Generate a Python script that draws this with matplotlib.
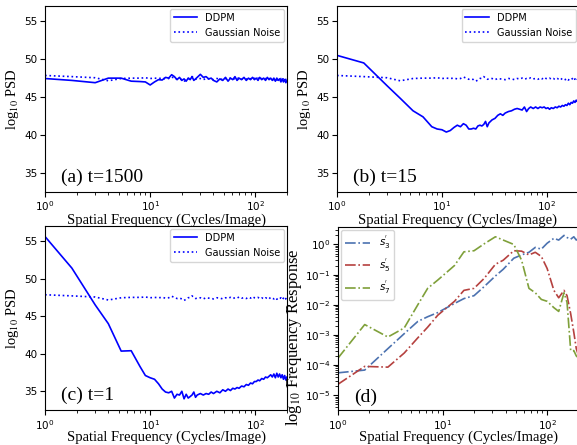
import matplotlib.pyplot as plt

# spatial frequency bins used for the PSD panels (a)-(c)
freq = [1, 1.8, 3, 4, 5.3, 6.6, 8, 9, 10, 11, 12, 13, 14, 15, 16, 17, 18, 19, 20,
        21, 22, 23, 24, 25, 26, 27, 28, 30, 32, 34, 36, 38, 40, 43, 46, 49, 52,
        55, 58, 61, 64, 67, 70, 74, 78, 82, 86, 90, 94, 98, 102, 106, 110, 115,
        120, 125, 130, 135, 140, 145, 150, 155, 160, 165, 170, 175, 180, 185,
        190, 195, 200]

# Gaussian noise reference (same in every panel)
noise_psd = [47.85, 47.7, 47.55, 47.15, 47.45, 47.5, 47.5, 47.55, 47.45, 47.5,
             47.45, 47.5, 47.4, 47.45, 47.65, 47.5, 47.35, 47.4, 47.3, 47.1,
             47.25, 47.45, 47.5, 47.7, 47.5, 47.35, 47.4, 47.45, 47.3, 47.45,
             47.4, 47.35, 47.3, 47.45, 47.4, 47.3, 47.45, 47.4, 47.5, 47.35,
             47.45, 47.4, 47.55, 47.4, 47.45, 47.35, 47.5, 47.4, 47.6, 47.45,
             47.4, 47.5, 47.35, 47.45, 47.3, 47.45, 47.35, 47.5, 47.3, 47.4,
             47.3, 47.45, 47.25, 47.4, 47.3, 47.45, 47.2, 47.4, 47.15, 47.35, 47.1]

# DDPM PSD at t=1500
ddpm_1500 = [47.45, 47.2, 46.9, 47.5, 47.5, 47.1, 47.05, 47.0, 46.6, 47.0,
             47.3, 47.25, 47.6, 47.5, 47.95, 47.7, 47.3, 47.6, 47.2, 47.4,
             47.1, 47.5, 47.3, 47.7, 47.2, 47.4, 47.6, 48.0, 47.6, 47.7,
             47.4, 47.5, 47.2, 47.0, 47.4, 47.2, 47.6, 47.1, 47.5, 47.3,
             47.7, 47.2, 47.5, 47.3, 47.6, 47.2, 47.5, 47.3, 47.6, 47.3,
             47.5, 47.2, 47.6, 47.3, 47.5, 47.2, 47.6, 47.3, 47.5, 47.2,
             47.5, 47.1, 47.5, 47.2, 47.4, 47.0, 47.4, 47.0, 47.3, 46.9, 47.2]

# DDPM PSD at t=15
ddpm_15 = [50.5, 49.5, 46.5, 44.85, 43.2, 42.4, 41.1, 40.8, 40.7, 40.4,
           40.6, 41.0, 41.3, 41.1, 41.5, 41.3, 40.8, 40.8, 40.9, 40.8,
           41.2, 41.3, 41.2, 41.4, 41.8, 41.1, 41.6, 42.0, 42.2, 42.6,
           42.8, 42.6, 42.9, 43.1, 43.2, 43.4, 43.5, 43.4, 43.3, 43.7,
           43.1, 43.5, 43.7, 43.5, 43.7, 43.5, 43.7, 43.6, 43.7, 43.5,
           43.6, 43.4, 43.6, 43.5, 43.7, 43.6, 43.8, 43.7, 43.9, 43.8,
           44.0, 43.9, 44.2, 44.0, 44.3, 44.2, 44.5, 44.3, 44.6, 44.4, 44.7]

# DDPM PSD at t=1
ddpm_1 = [55.6, 51.4, 46.5, 44.0, 40.35, 40.4, 38.3, 37.1, 36.8, 36.6,
          36.0, 35.3, 34.9, 34.8, 35.0, 34.1, 34.6, 34.5, 35.0, 34.0,
          34.6, 34.1, 34.3, 34.5, 34.9, 34.2, 34.5, 34.7, 34.5, 34.7,
          34.6, 34.9, 34.7, 35.0, 34.8, 35.2, 35.0, 35.3, 35.1, 35.4,
          35.3, 35.5, 35.4, 35.7, 35.6, 35.9, 35.8, 36.1, 36.0, 36.3,
          36.3, 36.5, 36.4, 36.7, 36.6, 36.9, 36.8, 37.0, 37.2, 36.9,
          37.3, 36.8, 37.4, 36.9, 37.3, 36.8, 37.2, 36.6, 37.1, 36.5, 36.9]

# frequency response of the filters, panel (d)
freq_d = [1, 1.8, 3, 4.3, 5.8, 7.2, 9, 13, 16, 20, 25, 32, 38, 48, 57, 67, 77,
          88, 100, 116, 129, 145, 155, 168, 180, 190, 200]
s3 = [5.5e-5, 6.8e-5, 3.5e-4, 1.1e-3, 2.8e-3, 4e-3, 5.5e-3, 1.1e-2, 1.6e-2,
      2.0e-2, 4e-2, 9e-2, 1.5e-1, 3.5e-1, 4.5e-1, 5.5e-1, 8e-1, 7e-1, 1.1,
      1.6, 1.4, 2.0, 1.7, 1.5, 1.8, 1.4, 1.6]
s5 = [2.3e-5, 9e-5, 8.5e-5, 2.5e-4, 8e-4, 1.8e-3, 4.5e-3, 1.3e-2, 3e-2,
      3.5e-2, 7.5e-2, 2.2e-1, 3e-1, 6.2e-1, 6e-1, 4.5e-1, 5.5e-1, 4e-1,
      1.6e-1, 3e-2, 1.7e-2, 3e-2, 2e-2, 5e-3, 1.2e-3, 3.5e-4, 2e-4]
s7 = [1.7e-4, 2.2e-3, 8.5e-4, 1.7e-3, 1e-2, 3.5e-2, 6.6e-2, 2e-1, 5.7e-1,
      6.2e-1, 1.05, 1.8, 1.4, 1.0, 3e-1, 3.5e-2, 2.5e-2, 1.5e-2, 1.3e-2,
      8e-3, 6e-3, 2.5e-2, 1.2e-2, 3e-4, 3e-4, 2e-4, 1.7e-4]

plt.rc('xtick', labelsize=7.5)
plt.rc('ytick', labelsize=7.5)
plt.rc('xtick.major', pad=2)
plt.rc('ytick.major', pad=2)

serif = dict(family='Liberation Serif', size=10.5, math_fontfamily='stix')
panel_font = dict(family='Liberation Serif', size=14)
xlab = 'Spatial Frequency (Cycles/Image)'

fig = plt.figure(figsize=(5.77, 4.45), dpi=100)
ax_a = fig.add_axes([0.078, 0.5685, 0.4194, 0.418])
ax_b = fig.add_axes([0.584, 0.5685, 0.4187, 0.418])
ax_c = fig.add_axes([0.078, 0.0785, 0.4194, 0.4136])
ax_d = fig.add_axes([0.5858, 0.0785, 0.4170, 0.4114])

for ax, y, lab in [(ax_a, ddpm_1500, '(a) t=1500'), (ax_b, ddpm_15, '(b) t=15'),
                   (ax_c, ddpm_1, '(c) t=1')]:
    ax.plot(freq, y, color='blue', lw=1.2, label='DDPM')
    ax.plot(freq, noise_psd, color='blue', lw=1.2, ls=':', label='Gaussian Noise')
    ax.set_xscale('log')
    ax.set_xlim(1, 200)
    ax.set_ylim(32.5, 57)
    ax.set_yticks([35, 40, 45, 50, 55])
    ax.set_xlabel(xlab, fontdict=serif, labelpad=0 if ax is not ax_c else -1)
    ax.set_ylabel(r'log$_{10}$ PSD', fontdict=serif, labelpad=2)
    ax.text(0.065, 0.055, lab, transform=ax.transAxes, fontdict=panel_font)
    ax.legend(loc='upper right', fontsize=7, handlelength=2.4, borderaxespad=0.3)

ax_d.plot(freq_d, s3, color='#4c72b0', ls='-.', lw=1.2, label=r"$s_3^{'}$")
ax_d.plot(freq_d, s5, color='#b5413f', ls='-.', lw=1.2, label=r"$s_5^{'}$")
ax_d.plot(freq_d, s7, color='#7fa03a', ls='-.', lw=1.2, label=r"$s_7^{'}$")
ax_d.set_xscale('log')
ax_d.set_yscale('log')
ax_d.set_xlim(1, 200)
ax_d.set_ylim(3.2e-6, 3.8)
ax_d.set_xlabel(xlab, fontdict=serif, labelpad=-1)
ax_d.set_ylabel(r'log$_{10}$ Frequency Response', family='Liberation Serif',
                size=12, math_fontfamily='stix')
ax_d.yaxis.set_label_coords(-0.142, 0.40)
ax_d.text(0.065, 0.045, '(d)', transform=ax_d.transAxes, fontdict=panel_font)
ax_d.legend(loc='upper left', prop={'size': 7.5, 'math_fontfamily': 'dejavusans'},
            handlelength=2.4, borderaxespad=0.3)

plt.savefig('out.png', dpi=100)
